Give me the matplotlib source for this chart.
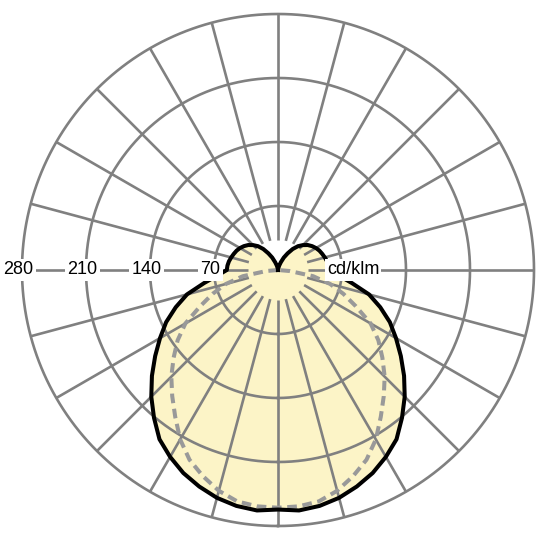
import numpy as np
import matplotlib
matplotlib.use("Agg")
import matplotlib.pyplot as plt

# ---- data (cd/klm), gamma in degrees from nadir ----
gamma_solid = [0, 5, 10, 15, 20, 25, 30, 35, 40, 45, 50, 55, 60, 65, 70, 75, 80, 85, 90,
               95, 100, 105, 110, 115, 120, 125, 130, 135, 140, 145, 150, 155, 160, 165, 170, 175, 180]
i_solid = [262, 264, 262, 258, 252, 245, 236, 226, 211, 196, 180, 164, 149, 135, 119, 103, 82, 66, 56,
           55.5, 54.5, 53, 51.5, 50, 48, 45.5, 42.5, 38.5, 34, 28, 21, 15, 9, 5, 2, 0.5, 0]

gamma_dash = [0, 5, 10, 15, 20, 25, 30, 35, 40, 45, 50, 55, 60, 65, 70, 75, 80, 85, 90]
i_dash = [260, 259.5, 257, 250, 240, 229, 214, 196, 180, 165, 149, 134, 117, 94, 76, 59, 39, 13, 0]

rings = [70, 140, 210, 280]
ring_labels = ["70", "140", "210", "280"]
unit_label = "cd/klm"

# ---- style ----
GRID = "#808080"
FILL = "#FCF4C7"
DASH = "#999999"

plt.rcParams['font.family'] = ['Liberation Sans', 'DejaVu Sans']

fig = plt.figure(figsize=(5.4, 5.4), dpi=100)
cx, cy, R = 278 / 540, 1 - 270 / 540, 256 / 540
ax = fig.add_axes([cx - R, cy - R, 2 * R, 2 * R], projection='polar')
ax.set_theta_zero_location('S')
ax.set_theta_direction(1)
ax.set_ylim(0, 280)
ax.set_xticks([])
ax.set_yticks([])
ax.grid(False)
ax.spines['polar'].set_visible(False)
ax.patch.set_visible(False)


def mirror(g, v):
    g = np.radians(np.asarray(g, float))
    v = np.asarray(v, float)
    th = np.concatenate([-g[::-1], g[1:]])
    rr = np.concatenate([v[::-1], v[1:]])
    return th, rr


th_s, r_s = mirror(gamma_solid, i_solid)
th_d, r_d = mirror(gamma_dash, i_dash)

# fill
ax.fill(th_s, r_s, color=FILL, zorder=1, lw=0)

# grid rings
tt = np.linspace(0, 2 * np.pi, 721)
for rv in rings:
    ax.plot(tt, np.full_like(tt, rv), color=GRID, lw=1.9, zorder=2, clip_on=False)
# spokes every 15 deg
for a in range(0, 360, 15):
    t = np.radians(a)
    ax.plot([t, t], [33, 280], color=GRID, lw=1.9, zorder=2, clip_on=False,
            solid_capstyle='butt')

# curves
ax.plot(th_d, r_d, color=DASH, lw=2.9, ls=(0, (2.4, 1.4)), zorder=3, clip_on=False)
ax.plot(th_s, r_s, color='black', lw=2.9, zorder=4, clip_on=False, solid_joinstyle='round')

# labels
for rv, lab in zip(rings, ring_labels):
    ax.text(np.radians(-90), rv + 4, lab, ha='center', va='center', fontsize=13,
            color='black', zorder=6,
            bbox=dict(facecolor='white', edgecolor='none', pad=1.5))
ax.text(np.radians(90), 53.5, unit_label, ha='left', va='center', fontsize=13,
        color='black', zorder=6,
        bbox=dict(facecolor='white', edgecolor='none', pad=1.5))

fig.savefig("out.png", dpi=100, facecolor='white')
